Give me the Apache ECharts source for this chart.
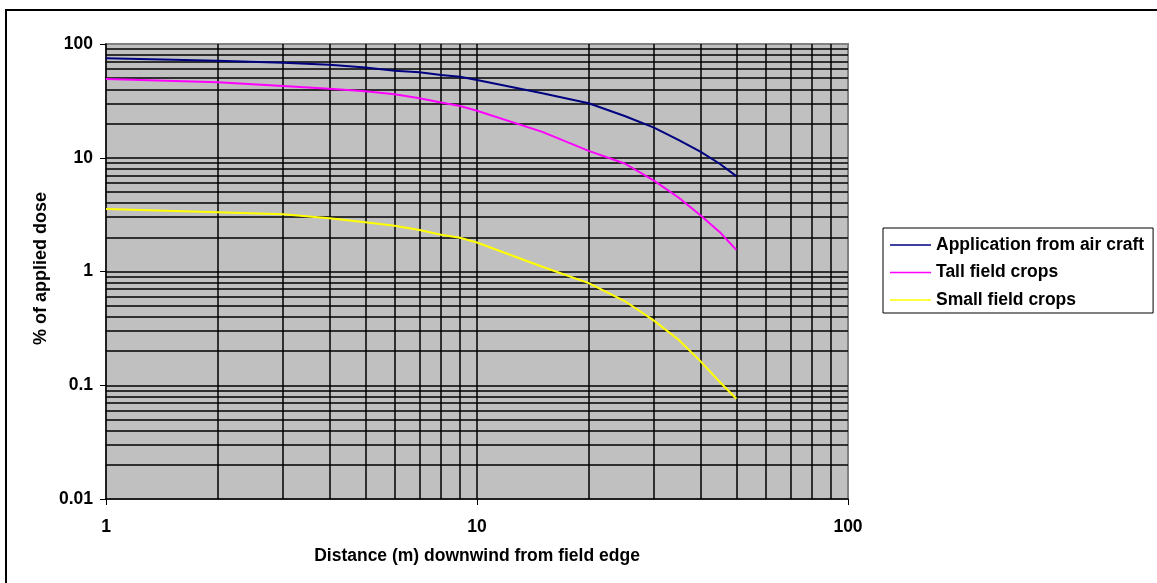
<!DOCTYPE html>
<html>
<head>
<meta charset="utf-8">
<script src="https://cdn.jsdelivr.net/npm/echarts@6/dist/echarts.min.js"></script>
<style>
  html, body { margin: 0; padding: 0; background: #fff; }
  #chart { width: 1157px; height: 583px; }
</style>
</head>
<body>
<div id="chart"></div>
<script>
// distance downwind (m)
const distances = [1, 2, 3, 4, 5, 6, 7, 8, 9, 10, 15, 20, 25, 30, 35, 40, 45, 50];
// % of applied dose per scenario
const aircraft = [75, 71.3, 68.5, 65.8, 62, 58.2, 56.4, 53.5, 51.6, 48.3, 36.9, 30.1, 23.3, 18.4, 14.3, 11.3, 8.9, 6.9];
const tallCrops = [49.2, 46, 42.7, 40.5, 38.4, 36.1, 33.3, 30.6, 28.5, 25.9, 16.9, 11.5, 8.9, 6.3, 4.45, 3.12, 2.24, 1.55];
const smallCrops = [3.54, 3.31, 3.18, 2.94, 2.71, 2.53, 2.32, 2.1, 1.98, 1.8, 1.1, 0.79, 0.55, 0.37, 0.25, 0.163, 0.108, 0.076];

const seriesNames = ['Application from air craft', 'Tall field crops', 'Small field crops'];
const seriesColors = ['#000080', '#ff00ff', '#ffff00'];

// minor gridline positions (log axes)
const minorX = [2, 3, 4, 5, 6, 7, 8, 9, 20, 30, 40, 50, 60, 70, 80, 90];
const minorY = [0.02, 0.03, 0.04, 0.05, 0.06, 0.07, 0.08, 0.09,
                0.2, 0.3, 0.4, 0.5, 0.6, 0.7, 0.8, 0.9,
                2, 3, 4, 5, 6, 7, 8, 9,
                20, 30, 40, 50, 60, 70, 80, 90];

const FONT = 'Liberation Sans, Arial, sans-serif';
const chart = echarts.init(document.getElementById('chart'));

const pairs = vals => distances.map((d, i) => [d, vals[i]]);

const gridLines = [
    ...minorX.map(v => ({ xAxis: v })),
    ...minorY.map(v => ({ yAxis: v }))
];

const option = {
    animation: false,
    backgroundColor: '#fff',
    textStyle: { fontFamily: FONT },
    grid: {
        left: 106, top: 44, right: 309, bottom: 84,
        show: true,
        backgroundColor: '#c0c0c0',
        borderColor: '#808080',
        borderWidth: 2
    },
    legend: {
        orient: 'vertical',
        left: 883, top: 228,
        padding: [8, 9, 4, 7],
        itemWidth: 41, itemHeight: 14, itemGap: 9.5,
        // plain 1px line as the key, no marker
        icon: 'path://M0,0L41,0L41,1.3L0,1.3Z',
        symbolKeepAspect: true,
        borderColor: '#000', borderWidth: 1,
        backgroundColor: '#fff',
        data: seriesNames,
        textStyle: { fontFamily: FONT, fontWeight: 'bold', fontSize: 17.5, color: '#000' }
    },
    xAxis: {
        type: 'log', logBase: 10, min: 1, max: 100,
        name: 'Distance (m) downwind from field edge',
        nameLocation: 'middle', nameGap: 48,
        nameTextStyle: { fontFamily: FONT, fontWeight: 'bold', fontSize: 17.5, color: '#000' },
        axisLine: { lineStyle: { color: '#000', width: 1.5 } },
        axisTick: { show: true, length: 6, lineStyle: { color: '#000' } },
        axisLabel: { margin: 19, fontFamily: FONT, fontWeight: 'bold', fontSize: 17.5, color: '#000' },
        splitLine: { show: true, showMinLine: false, showMaxLine: false, lineStyle: { color: '#000', width: 1.5 } }
    },
    yAxis: {
        type: 'log', logBase: 10, min: 0.01, max: 100,
        axisLine: { show: true, lineStyle: { color: '#000', width: 1.5 } },
        axisTick: { show: true, length: 6, lineStyle: { color: '#000' } },
        axisLabel: { margin: 13, fontFamily: FONT, fontWeight: 'bold', fontSize: 17.5, color: '#000' },
        splitLine: { show: true, showMinLine: false, showMaxLine: false, lineStyle: { color: '#000', width: 1.5 } }
    },
    graphic: [
        {
            type: 'rect', x: 6, y: 10, silent: true,
            shape: { x: 0, y: 0, width: 1170, height: 600 },
            style: { fill: 'none', stroke: '#000', lineWidth: 2 }
        },
        {
            type: 'text', x: 41, y: 345, rotation: Math.PI / 2, silent: true,
            style: {
                text: '% of applied dose',
                font: 'bold 18px ' + FONT,
                fill: '#000',
                textAlign: 'left', textVerticalAlign: 'middle'
            }
        }
    ],
    series: [
        {
            name: 'gridlines', type: 'line', data: [], silent: true,
            markLine: {
                z: 1, silent: true, animation: false,
                symbol: ['none', 'none'],
                label: { show: false },
                lineStyle: { color: '#000', width: 1.5, type: 'solid' },
                emphasis: { disabled: true },
                data: gridLines
            }
        },
        ...[aircraft, tallCrops, smallCrops].map((vals, i) => ({
            name: seriesNames[i],
            type: 'line',
            z: 3,
            symbol: 'none',
            color: seriesColors[i],
            lineStyle: { width: 2, color: seriesColors[i] },
            data: pairs(vals)
        }))
    ]
};

chart.setOption(option);
</script>
</body>
</html>
